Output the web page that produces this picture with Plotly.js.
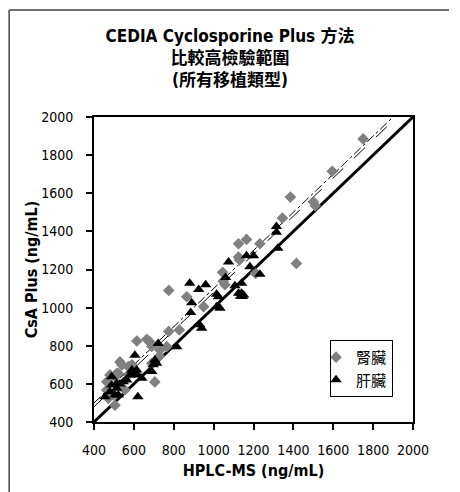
<!DOCTYPE html>
<html>
<head>
<meta charset="utf-8">
<script src="https://cdn.plot.ly/plotly-3.0.1.min.js"></script>
<style>
html,body{margin:0;padding:0;background:#fff;}
#chart{width:460px;height:492px;}
</style>
</head>
<body>
<div id="chart"></div>
<script>
// ---- data ----
var kidneyName = "腎臟";
var liverName = "肝臟";
var kidneyX = [1750,1595,1385,1500,1510,1345,1125,1165,1232,1415,1130,1125,1045,1210,1057,1048,775,865,950,775,828,765,730,728,615,665,680,690,530,572,590,540,690,705,505,514,464,464,522,497,472,505,572,522,555,480];
var kidneyY = [1885,1715,1580,1555,1535,1470,1335,1358,1335,1232,1250,1265,1185,1180,1120,1138,1090,1057,1005,875,883,795,778,745,825,834,820,797,715,690,700,699,708,610,638,655,568,611,655,542,524,488,647,594,568,647];
var liverX = [1315,1315,1322,1075,1165,1200,1182,1232,1060,880,925,960,890,885,1015,1024,1015,1032,1140,1150,1145,1135,1140,1107,930,940,815,722,605,705,697,714,590,614,606,580,620,640,690,620,455,480,505,489,514,530,547,564,514,522,489,1125];
var liverY = [1425,1395,1311,1240,1272,1272,1215,1175,1158,1128,1095,1120,1025,975,1070,1057,1005,997,1075,1066,1058,1060,1128,1115,910,892,795,812,750,725,700,708,673,673,655,647,647,630,665,533,533,559,542,638,602,600,611,620,577,542,594,1075];
var identityX = [400, 2000];
var identityY = [400, 2000];
var fitAX = [400, 1900];
var fitAY = [500, 2000];
var fitBX = [400, 1920];
var fitBY = [480, 2000];
var tickVals = [400,600,800,1000,1200,1400,1600,1800,2000];
var tickText = ["400","600","800","1000","1200","1400","1600","1800","2000"];
var titleLines = ["CEDIA Cyclosporine Plus 方法", "比較高檢驗範圍", "(所有移植類型)"];
var xTitle = "HPLC-MS (ng/mL)";
var yTitle = "CsA Plus (ng/mL)";

var FONT = "'DejaVu Sans Condensed', 'Noto Sans CJK TC', sans-serif";

var traces = [
  {x: identityX, y: identityY, mode: 'lines', line: {color: '#000', width: 3}, showlegend: false, hoverinfo: 'skip'},
  {x: fitAX, y: fitAY, mode: 'lines', line: {color: '#000', width: 1, dash: 'dashdot'}, showlegend: false, hoverinfo: 'skip'},
  {x: fitBX, y: fitBY, mode: 'lines', line: {color: '#000', width: 1, dash: 'longdash'}, showlegend: false, hoverinfo: 'skip'},
  {x: kidneyX, y: kidneyY, name: kidneyName, mode: 'markers', type: 'scatter',
   marker: {symbol: 'diamond', size: 9, color: '#808080'}},
  {x: liverX, y: liverY, name: liverName, mode: 'markers', type: 'scatter',
   marker: {symbol: 'triangle-up', size: 10, color: '#000'}}
];

var axisCommon = {
  range: [400, 2000],
  tickmode: 'array',
  tickvals: tickVals,
  ticktext: tickText,
  showgrid: false,
  zeroline: false,
  showline: true,
  linecolor: '#000',
  linewidth: 2,
  mirror: true,
  ticks: 'outside',
  ticklen: 6,
  tickwidth: 2,
  tickcolor: '#000',
  tickfont: {family: FONT, size: 14, color: '#000'}
};

var layout = {
  width: 460,
  height: 492,
  margin: {l: 94, r: 47, t: 117, b: 70},
  paper_bgcolor: '#fff',
  plot_bgcolor: '#fff',
  font: {family: FONT, color: '#000'},
  title: {
    text: '<b>' + titleLines.join('<br>') + '</b>',
    font: {family: FONT, size: 17, color: '#000'},
    x: 0.5, xref: 'container', xanchor: 'center',
    y: 0.915, yref: 'container', yanchor: 'top'
  },
  xaxis: Object.assign({}, axisCommon, {
    ticklabelstandoff: 8,
    title: {text: '<b>' + xTitle + '</b>', font: {family: FONT, size: 16, color: '#000'}, standoff: 8}
  }),
  yaxis: Object.assign({}, axisCommon, {
    ticklabelstandoff: 10,
    title: {text: '<b>' + yTitle + '</b>', font: {family: FONT, size: 16, color: '#000'}, standoff: 0}
  }),
  showlegend: true,
  legend: {
    x: 0.74, y: 0.269, xanchor: 'left', yanchor: 'top',
    bgcolor: '#fff', bordercolor: '#000', borderwidth: 1,
    font: {family: FONT, size: 15, color: '#000'},
    itemwidth: 30,
    indentation: -15,
    tracegroupgap: 0
  },
  shapes: [
    {type: 'line', xref: 'paper', yref: 'paper', x0: -0.266, x1: -0.266, y0: 1.351, y1: -0.25, line: {color: '#444', width: 1.5}},
    {type: 'line', xref: 'paper', yref: 'paper', x0: -0.266, x1: 1.113, y0: 1.351, y1: 1.351, line: {color: '#444', width: 1.5}}
  ]
};

Plotly.newPlot('chart', traces, layout, {staticPlot: true, displayModeBar: false});
</script>
</body>
</html>
